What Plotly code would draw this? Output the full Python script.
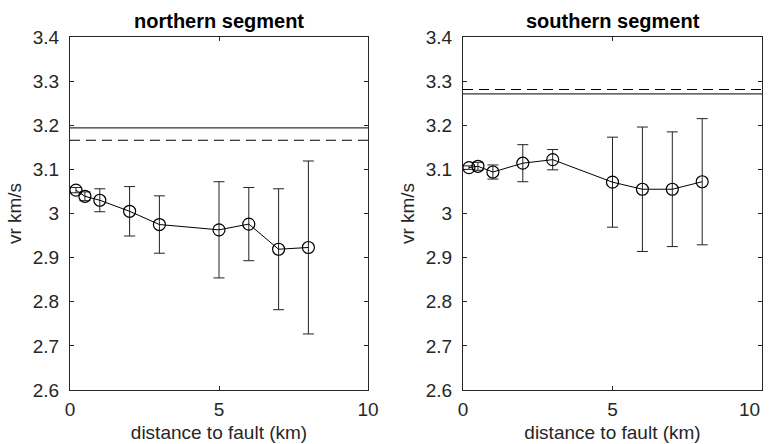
import plotly.graph_objects as go

# distance to fault (km)
distance = [0.2, 0.5, 1, 2, 3, 5, 6, 7, 8]

# northern segment rupture velocity and uncertainty (km/s)
north_vr = [3.053, 3.039, 3.030, 3.005, 2.975, 2.963, 2.976, 2.919, 2.923]
north_err = [0.006, 0.010, 0.026, 0.056, 0.065, 0.109, 0.083, 0.137, 0.196]
north_solid = 3.194
north_dashed = 3.166

# southern segment rupture velocity and uncertainty (km/s)
south_vr = [3.104, 3.107, 3.094, 3.114, 3.122, 3.071, 3.055, 3.055, 3.072]
south_err = [0.004, 0.009, 0.016, 0.042, 0.023, 0.102, 0.141, 0.130, 0.143]
south_solid = 3.271
south_dashed = 3.281

titles = ["northern segment", "southern segment"]
y_ticks = [2.6, 2.7, 2.8, 2.9, 3.0, 3.1, 3.2, 3.3, 3.4]
y_ticktext = ["2.6", "2.7", "2.8", "2.9", "3", "3.1", "3.2", "3.3", "3.4"]
x_ticks = [0, 5, 10]
x_ticktext = ["0", "5", "10"]

FONT = "Liberation Sans, Arial, Helvetica, sans-serif"
AX = "#262626"

fig = go.Figure()

panels = [
    (north_vr, north_err, north_solid, north_dashed, "x", "y"),
    (south_vr, south_err, south_solid, south_dashed, "x2", "y2"),
]

for vr, err, solid, dashed, xa, ya in panels:
    fig.add_trace(go.Scatter(
        x=[0, 10], y=[solid, solid], mode="lines",
        line=dict(color="black", width=1), xaxis=xa, yaxis=ya, showlegend=False))
    fig.add_trace(go.Scatter(
        x=[0, 10], y=[dashed, dashed], mode="lines",
        line=dict(color="black", width=1, dash="10px,6px"), xaxis=xa, yaxis=ya, showlegend=False))
    fig.add_trace(go.Scatter(
        x=distance, y=vr, mode="lines+markers",
        line=dict(color="black", width=1),
        marker=dict(symbol="circle-open", size=12, color="black", line=dict(width=1.2)),
        error_y=dict(type="data", array=err, visible=True, color="#222222", thickness=1, width=5.5),
        xaxis=xa, yaxis=ya, showlegend=False))

x_domains = [[70 / 771, 368 / 771], [463 / 771, 762 / 771]]
y_domain = [54 / 444, 407 / 444]

axis_common = dict(
    showgrid=False, zeroline=False, showline=True, linecolor=AX, linewidth=1,
    mirror="ticks", ticks="inside", ticklen=4, tickcolor=AX, automargin=False,
    tickfont=dict(family=FONT, size=19, color=AX),
)

layout_axes = {}
for i, (xd, name) in enumerate(zip(x_domains, ["", "2"])):
    # the last label of the right panel sits at the page edge, so it is
    # drawn right-aligned as an annotation instead of a centred tick label
    ttext = x_ticktext if name == "" else x_ticktext[:-1] + [""]
    layout_axes["xaxis" + name] = dict(
        axis_common, domain=xd, range=[0, 10], tickvals=x_ticks, ticktext=ttext,
        anchor="y" + name, ticklabelstandoff=2,
        title=dict(text="distance to fault (km)", font=dict(family=FONT, size=19, color=AX), standoff=6),
    )
    layout_axes["yaxis" + name] = dict(
        axis_common, domain=y_domain, range=[2.6, 3.4], tickvals=y_ticks, ticktext=y_ticktext,
        anchor="x" + name, ticklabelstandoff=6,
        title=dict(text="vr km/s", font=dict(family=FONT, size=19, color=AX), standoff=6),
    )

annotations = []
for xd, t in zip(x_domains, titles):
    annotations.append(dict(
        text="<b>" + t + "</b>", x=(xd[0] + xd[1]) / 2, y=1 - 21 / 444,
        xref="paper", yref="paper", xanchor="center", yanchor="middle",
        showarrow=False, font=dict(family=FONT, size=20, color="black")))

annotations.append(dict(
    text=x_ticktext[-1], x=x_ticks[-1], xref="x2", y=54 / 444, yref="paper",
    xanchor="right", yanchor="top", yshift=-7, showarrow=False,
    font=dict(family=FONT, size=19, color=AX)))

fig.update_layout(
    width=771, height=444,
    margin=dict(l=0, r=0, t=0, b=0),
    paper_bgcolor="white", plot_bgcolor="white",
    annotations=annotations,
    **layout_axes,
)

fig.write_html("out.html")
